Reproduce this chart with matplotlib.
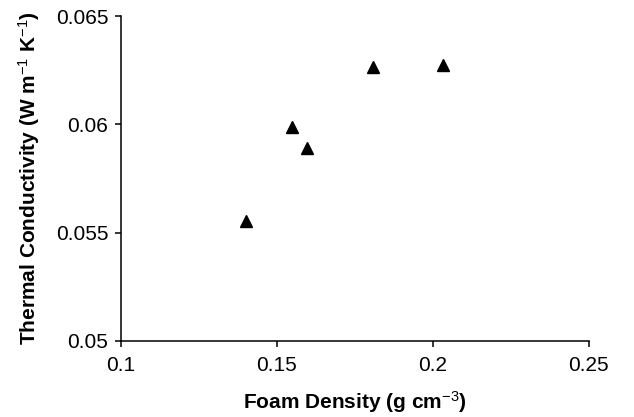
import matplotlib
matplotlib.use('Agg')

import matplotlib.pyplot as plt

# Foam density vs thermal conductivity
density = [0.1401, 0.1550, 0.1597, 0.1808, 0.2032]
conductivity = [0.05554, 0.05988, 0.05889, 0.06266, 0.06274]

x_ticks = [0.1, 0.15, 0.2, 0.25]
x_tick_labels = ['0.1', '0.15', '0.2', '0.25']
y_ticks = [0.05, 0.055, 0.06, 0.065]
y_tick_labels = ['0.05', '0.055', '0.06', '0.065']

plt.rcParams['font.family'] = ['Liberation Sans', 'DejaVu Sans']
plt.rcParams['mathtext.fontset'] = 'custom'
plt.rcParams['mathtext.rm'] = 'Liberation Sans'
plt.rcParams['mathtext.it'] = 'Liberation Sans'
plt.rcParams['mathtext.bf'] = 'Liberation Sans:bold'

fig = plt.figure(figsize=(6.34, 4.17), dpi=100)
ax = fig.add_axes([0.1904, 0.1823, 0.7382, 0.7793])

ax.plot(density, conductivity, linestyle='none', marker='^',
        markersize=8, color='black', clip_on=False)

ax.set_xlim(0.1, 0.25)
ax.set_ylim(0.05, 0.065)
ax.set_xticks(x_ticks)
ax.set_xticklabels(x_tick_labels)
ax.set_yticks(y_ticks)
ax.set_yticklabels(y_tick_labels)

for side in ['top', 'right']:
    ax.spines[side].set_visible(False)
for side in ['left', 'bottom']:
    ax.spines[side].set_linewidth(1.1)

ax.tick_params(direction='out', length=4, width=1.1, labelsize=15)
ax.tick_params(axis='x', pad=7)
ax.tick_params(axis='y', pad=5)

ax.set_xlabel('Foam Density (g cm$^{-3}$)', fontsize=15, fontweight='bold', labelpad=10)
ax.set_ylabel('Thermal Conductivity (W m$^{-1}$ K$^{-1}$)', fontsize=15,
              fontweight='bold', labelpad=10)

fig.savefig('out.png', dpi=100)
